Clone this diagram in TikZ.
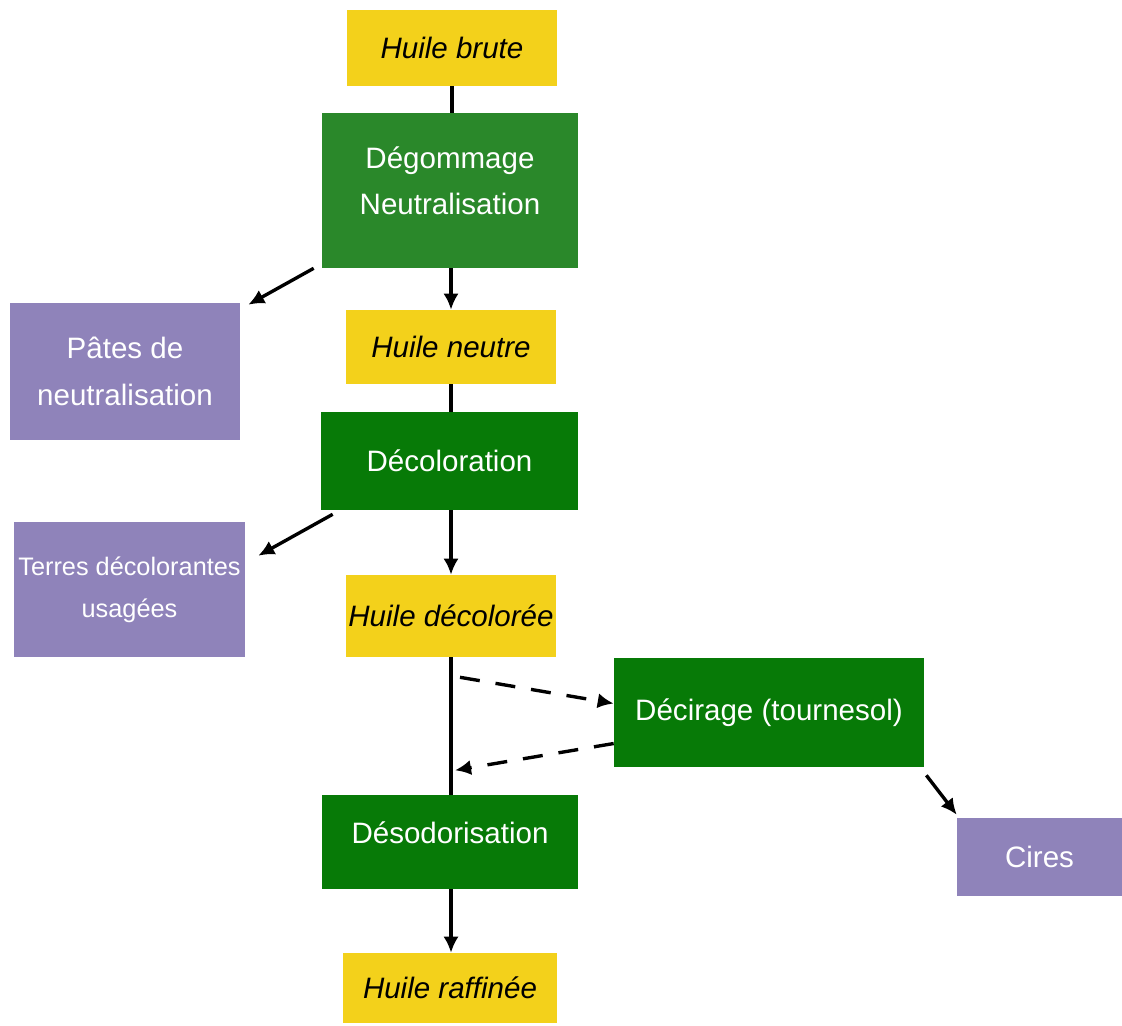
\documentclass[tikz,border=0pt]{standalone}
\usepackage{fontspec}
\setmainfont{Liberation Sans}
\usetikzlibrary{arrows.meta,calc}
\definecolor{huile}{HTML}{F3D11B}
\definecolor{vertclair}{HTML}{2A882A}
\definecolor{vert}{HTML}{077A07}
\definecolor{mauve}{HTML}{8F83BA}

\begin{document}
\begin{tikzpicture}
  [x=0.025cm,y=-0.025cm,
   huilebox/.style={rectangle,fill=huile,inner sep=0pt,align=center,
     font=\fontsize{21}{33}\selectfont\itshape},
   etapebox/.style={rectangle,fill=vert,text=white,inner sep=0pt,align=center,
     font=\fontsize{21}{33}\selectfont},
   residubox/.style={rectangle,fill=mauve,text=white,inner sep=0pt,align=center,
     font=\fontsize{21}{33}\selectfont},
   trait/.style={line width=2.4pt},
   fleche/.style={line width=2.4pt,-{Latex[length=0.4cm,width=0.38cm]}},
   retour/.style={fleche,dash pattern=on 0.5cm off 0.4cm}]

  \useasboundingbox (0,0) rectangle (1122,1025);

  \node[huilebox,minimum width=5.25cm,minimum height=1.9cm] (brute) at (452,48) {Huile brute};
  \node[etapebox,fill=vertclair,minimum width=6.4cm,minimum height=3.875cm,text depth=0.5cm] (deg) at (450,190.5) {Dégommage\\Neutralisation};
  \node[residubox,minimum width=5.75cm,minimum height=3.425cm] (pates) at (125,371.5) {Pâtes de\\neutralisation};
  \node[huilebox,minimum width=5.25cm,minimum height=1.85cm] (neutre) at (451,347) {Huile neutre};
  \node[etapebox,minimum width=6.425cm,minimum height=2.45cm] (decol) at (449.5,461) {Décoloration};
  \node[residubox,minimum width=5.775cm,minimum height=3.375cm,font=\fontsize{18}{30}\selectfont] (terres) at (129.5,589.5) {Terres décolorantes\\usagées};
  \node[huilebox,minimum width=5.25cm,minimum height=2.05cm] (hdec) at (451,616) {Huile décolorée};
  \node[etapebox,minimum width=7.75cm,minimum height=2.725cm] (decir) at (769,712.5) {Décirage (tournesol)};
  \node[residubox,minimum width=4.125cm,minimum height=1.95cm] (cires) at (1039.5,857) {Cires};
  \node[etapebox,minimum width=6.4cm,minimum height=2.35cm,text depth=0.45cm] (desod) at (450,842) {Désodorisation};
  \node[huilebox,minimum width=5.35cm,minimum height=1.75cm] (raff) at (450,988) {Huile raffinée};

  \coordinate (retourhaut) at ($(hdec.south)+(9,20)$);
  \coordinate (retourbas) at ($(hdec.south)+(4,113)$);

  \draw[trait] (brute.south) -- (brute.south |- deg.north);
  \draw[fleche] (deg.south -| neutre.north) -- (neutre.north);
  \draw[trait] (neutre.south) -- (neutre.south |- decol.north);
  \draw[fleche] (decol.south -| hdec.north) -- (hdec.north);
  \draw[trait] (hdec.south) -- (hdec.south |- desod.north);
  \draw[fleche] (desod.south -| hdec.south) -- (raff.north -| hdec.south);

  \draw[fleche] ($(deg.south west)+(-8,0)$) -- ($(pates.north east)+(8,2)$);
  \draw[fleche] ($(decol.south west)+(12,4)$) -- ($(terres.north east)+(13,34)$);
  \draw[fleche] ($(decir.south east)+(2,8)$) -- ($(cires.north west)+(0,-3)$);

  \draw[retour] (retourhaut) -- ($(decir.west)+(0,-9)$);
  \draw[retour] ($(decir.west)+(0,31)$) -- (retourbas);
\end{tikzpicture}
\end{document}
